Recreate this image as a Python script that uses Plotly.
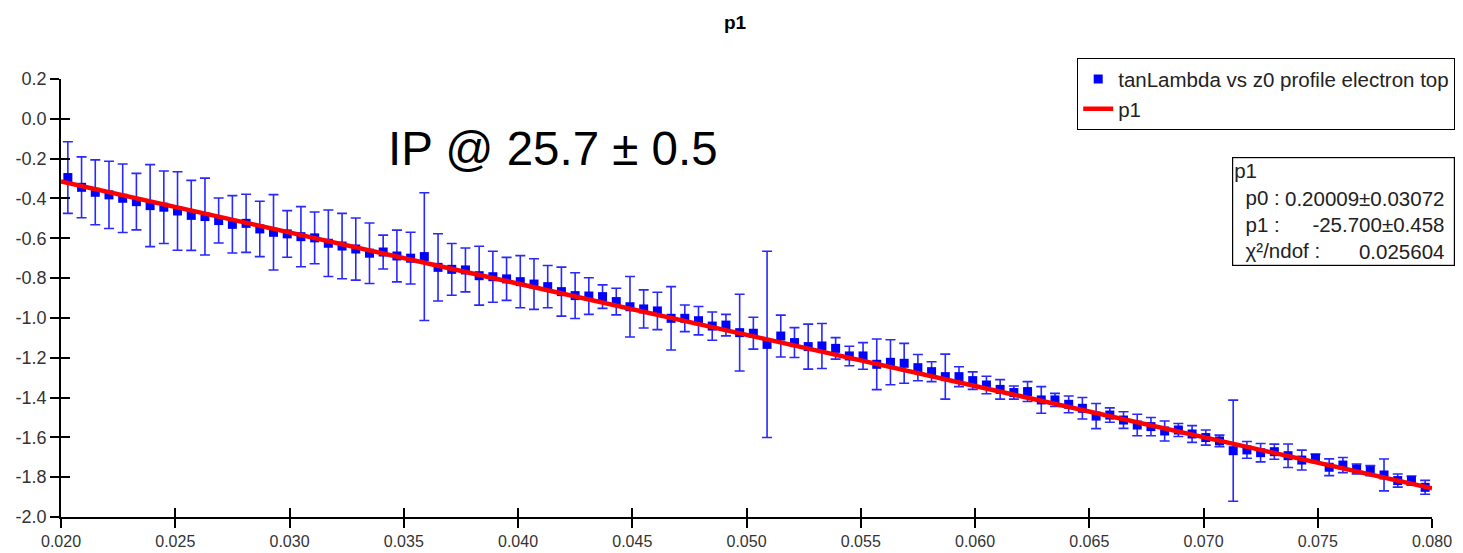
import plotly.graph_objects as go

# ---- data ----
bin_centers = [round(0.0203 + 0.0006 * i, 4) for i in range(100)]

profile_y = [
    -0.295, -0.344, -0.369, -0.382, -0.399, -0.416, -0.436, -0.444, -0.463, -0.485,
    -0.491, -0.511, -0.530, -0.525, -0.553, -0.570, -0.578, -0.592, -0.598, -0.625,
    -0.639, -0.654, -0.675, -0.669, -0.689, -0.700, -0.692, -0.746, -0.756, -0.759,
    -0.788, -0.793, -0.804, -0.818, -0.830, -0.843, -0.868, -0.888, -0.890, -0.893,
    -0.918, -0.944, -0.955, -0.965, -1.002, -1.002, -1.014, -1.041, -1.036, -1.074,
    -1.077, -1.133, -1.091, -1.124, -1.144, -1.141, -1.153, -1.191, -1.191, -1.233,
    -1.223, -1.228, -1.250, -1.270, -1.295, -1.295, -1.315, -1.337, -1.359, -1.375,
    -1.370, -1.412, -1.412, -1.434, -1.454, -1.493, -1.488, -1.513, -1.538, -1.546,
    -1.568, -1.563, -1.583, -1.601, -1.618, -1.667, -1.663, -1.677, -1.672, -1.692,
    -1.714, -1.705, -1.750, -1.739, -1.759, -1.767, -1.789, -1.817, -1.817, -1.851,
]

profile_err = [
    0.180, 0.153, 0.163, 0.169, 0.172, 0.142, 0.206, 0.182, 0.197, 0.176,
    0.193, 0.113, 0.144, 0.146, 0.139, 0.189, 0.117, 0.151, 0.130, 0.167,
    0.164, 0.156, 0.152, 0.085, 0.130, 0.130, 0.321, 0.169, 0.130, 0.110,
    0.148, 0.128, 0.108, 0.131, 0.127, 0.106, 0.123, 0.115, 0.092, 0.059,
    0.067, 0.152, 0.096, 0.094, 0.159, 0.067, 0.071, 0.071, 0.054, 0.193,
    0.080, 0.468, 0.105, 0.075, 0.113, 0.113, 0.054, 0.049, 0.067, 0.127,
    0.113, 0.100, 0.066, 0.050, 0.113, 0.050, 0.044, 0.044, 0.049, 0.033,
    0.050, 0.067, 0.033, 0.042, 0.054, 0.063, 0.036, 0.042, 0.054, 0.046,
    0.050, 0.033, 0.042, 0.038, 0.029, 0.254, 0.042, 0.046, 0.038, 0.059,
    0.050, 0.021, 0.042, 0.038, 0.025, 0.025, 0.080, 0.033, 0.023, 0.035,
]

fit_x = [0.020, 0.080]
fit_y = [-0.314, -1.856]

x_tickvals = [0.020, 0.025, 0.030, 0.035, 0.040, 0.045, 0.050, 0.055, 0.060, 0.065, 0.070, 0.075, 0.080]
x_ticktext = ["0.020", "0.025", "0.030", "0.035", "0.040", "0.045", "0.050", "0.055", "0.060", "0.065", "0.070", "0.075", "0.080"]
y_tickvals = [0.2, 0.0, -0.2, -0.4, -0.6, -0.8, -1.0, -1.2, -1.4, -1.6, -1.8, -2.0]
y_ticktext = ["0.2", "0.0", "-0.2", "-0.4", "-0.6", "-0.8", "-1.0", "-1.2", "-1.4", "-1.6", "-1.8", "-2.0"]

series_name = "tanLambda vs z0 profile electron top"
fit_name = "p1"
title_text = "p1"
ip_text = "IP @ 25.7 \u00b1 0.5"
stats_labels = "p1<br>&nbsp;&nbsp;p0 :<br>&nbsp;&nbsp;p1 :<br>&nbsp;&nbsp;\u03c7\u00b2/ndof :"
stats_values = "&nbsp;<br>0.20009\u00b10.03072<br>-25.700\u00b10.458<br>0.025604"

FONT = "Liberation Sans, Arial, sans-serif"
XR = [0.020, 0.080]
YR = [-2.0, 0.2]

W, H = 1463, 553
ML, MR, MT, MB = 61, 31, 79, 36
PW = W - ML - MR
PH = H - MT - MB


def px_x(p):
    return (p - ML) / PW


def px_y(p):
    return (H - MB - p) / PH


fig = go.Figure()
fig.add_trace(go.Scatter(
    x=bin_centers, y=profile_y, mode="markers", name=series_name,
    marker=dict(symbol="square", size=9, color="#0000ff"),
    error_y=dict(type="data", array=profile_err, visible=True,
                 color="#2828ff", thickness=1.6, width=5),
))
fig.add_trace(go.Scatter(
    x=fit_x, y=fit_y, mode="lines", name=fit_name,
    line=dict(color="#ff0000", width=4.5),
))

axis_common = dict(showgrid=False, zeroline=False, showline=True, linecolor="#000000",
                   linewidth=1.6, ticks="outside", ticklen=9, tickwidth=1.5,
                   tickcolor="#000000", mirror=False, automargin=False)

fig.update_layout(
    width=W, height=H, autosize=False,
    margin=dict(l=ML, r=MR, t=MT, b=MB, autoexpand=False),
    paper_bgcolor="white", plot_bgcolor="white",
    font=dict(family=FONT, color="#333333", size=16),
    title=dict(text="<b>" + title_text + "</b>", x=735 / W, xref="container", y=1 - 22 / H,
               yref="container", xanchor="center", yanchor="middle",
               font=dict(family=FONT, size=19, color="#000000")),
    xaxis=dict(range=XR, tickvals=x_tickvals, ticktext=x_ticktext,
               tickfont=dict(size=16, color="#333333"), **axis_common),
    yaxis=dict(range=YR, tickvals=y_tickvals, ticktext=y_ticktext,
               tickfont=dict(size=18, color="#333333"), **axis_common),
    xaxis2=dict(range=XR, tickvals=x_tickvals, overlaying="x", side="bottom",
                showticklabels=False, showgrid=False, zeroline=False, showline=False,
                ticks="inside", ticklen=9, tickwidth=1.5, tickcolor="#000000"),
    yaxis2=dict(range=YR, tickvals=y_tickvals, overlaying="y", side="left",
                showticklabels=False, showgrid=False, zeroline=False, showline=False,
                ticks="inside", ticklen=9, tickwidth=1.5, tickcolor="#000000"),
    showlegend=True,
    legend=dict(x=px_x(1455), y=px_y(58), xanchor="right", yanchor="top",
                bordercolor="#000000", borderwidth=1.2, bgcolor="white",
                font=dict(family=FONT, size=20.5, color="#222222"),
                tracegroupgap=4),
)

# invisible trace to activate the inner-tick axes
fig.add_trace(go.Scatter(x=[XR[0]], y=[YR[0]], xaxis="x2", yaxis="y2",
                         mode="markers", marker=dict(opacity=0), showlegend=False,
                         hoverinfo="skip"))

fig.add_annotation(x=0.02 + (386 - ML) / PW * 0.06, y=-0.147, xref="x", yref="y", text=ip_text,
                   showarrow=False, xanchor="left", yanchor="middle",
                   font=dict(family=FONT, size=47.5, color="#000000"))

# stats box
fig.add_annotation(x=px_x(1232), y=px_y(157), xref="paper", yref="paper",
                   text=stats_labels, showarrow=False, xanchor="left", yanchor="top",
                   align="left", width=219, height=105, valign="top",
                   bordercolor="#000000", borderwidth=1.2, borderpad=1, bgcolor="white",
                   font=dict(family=FONT, size=20.5, color="#222222"))
fig.add_annotation(x=px_x(1446), y=px_y(158), xref="paper", yref="paper",
                   text=stats_values, showarrow=False, xanchor="right", yanchor="top",
                   align="right", borderpad=1,
                   font=dict(family=FONT, size=20.5, color="#222222"))

fig.write_html("out.html", post_script="document.body.style.margin='0px';",
               config={"displayModeBar": False})
